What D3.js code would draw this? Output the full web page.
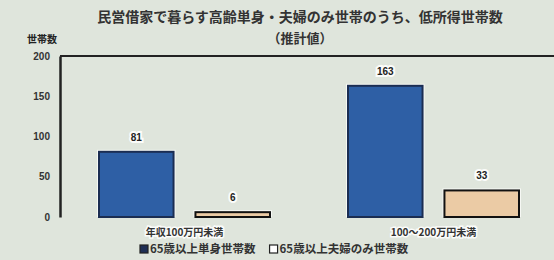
<!DOCTYPE html>
<html>
<head>
<meta charset="utf-8">
<script src="https://cdn.jsdelivr.net/npm/d3@7"></script>
<style>
  body { margin: 0; background: #dfe5dc; }
  svg { display: block; font-family: "Noto Sans CJK JP", sans-serif; }
</style>
</head>
<body>
<div id="chart"></div>
<script>
// data
const categories = ["年収100万円未満", "100～200万円未満"]
const seriesNames = ["65歳以上単身世帯数", "65歳以上夫婦のみ世帯数"]
const singleValues = [81, 163]
const coupleValues = [6, 33]
const yTicks = [0, 50, 100, 150, 200]

const width = 554
const height = 260
const margin = {top: 56, bottom: 43, left: 60, right: -4}

const svg = d3.select("#chart")
    .append("svg")
    .attr("width", width)
    .attr("height", height)

svg.append("rect").attr("width", width).attr("height", height).attr("fill", "#dfe5dc")

const rows = categories.map((c, i) => ({cat: c, values: [singleValues[i], coupleValues[i]]}))

const x0 = d3.scaleBand()
    .domain(categories)
    .range([margin.left, width - margin.right])
    .padding(0)

const x1 = d3.scaleBand()
    .domain(seriesNames)
    .range([39, 210])
    .paddingInner(0.227)
    .paddingOuter(0)

const y = d3.scaleLinear()
    .domain([0, 200])
    .range([height - margin.bottom, margin.top])

const colors = ["#2e5fa5", "#ebcba5"]
const borders = ["#1b2d52", "#111"]

// titles
svg.append("text")
    .attr("x", 300).attr("y", 22)
    .attr("text-anchor", "middle")
    .attr("font-size", 14).attr("font-weight", "bold").attr("fill", "#333")
    .text("民営借家で暮らす高齢単身・夫婦のみ世帯のうち、低所得世帯数")
svg.append("text")
    .attr("x", 300).attr("y", 43)
    .attr("text-anchor", "middle")
    .attr("font-size", 13).attr("font-weight", "bold").attr("fill", "#333")
    .text("（推計値）")
svg.append("text")
    .attr("x", 27).attr("y", 43)
    .attr("font-size", 10).attr("font-weight", "bold").attr("fill", "#222")
    .text("世帯数")

// frame top + y axis
svg.append("line")
    .attr("x1", margin.left).attr("x2", width)
    .attr("y1", y(200)).attr("y2", y(200))
    .attr("stroke", "#222").attr("stroke-width", 2)

const yAxis = d3.axisLeft(y).tickValues(yTicks).tickSize(0).tickPadding(10)
const yAxisGroup = svg.append("g")
    .attr("transform", `translate(${margin.left},0)`)
    .call(yAxis)
yAxisGroup.select(".domain").attr("stroke", "#222").attr("stroke-width", 2.5)
yAxisGroup.selectAll("text")
    .attr("font-size", 10).attr("font-weight", "bold").attr("fill", "#333")
    .attr("font-family", "Liberation Sans, sans-serif")

// bars
const groups = svg.selectAll(".grp")
    .data(rows)
    .join("g")
    .attr("transform", d => `translate(${x0(d.cat)},0)`)

const bars = groups.selectAll("g")
    .data(d => d.values.map((v, i) => ({name: seriesNames[i], v, i})))
    .join("g")

bars.append("rect")
    .attr("x", d => x1(d.name) - 2)
    .attr("y", d => y(d.v) - 2)
    .attr("width", x1.bandwidth() + 4)
    .attr("height", d => y(0) - y(d.v) + 2)
    .attr("fill", "#f6f8f4")

bars.append("rect")
    .attr("x", d => x1(d.name))
    .attr("y", d => y(d.v))
    .attr("width", x1.bandwidth())
    .attr("height", d => y(0) - y(d.v))
    .attr("fill", d => colors[d.i])
    .attr("stroke", d => borders[d.i])
    .attr("stroke-width", 2)

bars.append("text")
    .attr("x", d => x1(d.name) + x1.bandwidth() / 2)
    .attr("y", d => y(d.v) - 11)
    .attr("text-anchor", "middle")
    .attr("font-size", 10).attr("font-weight", "bold").attr("fill", "#222")
    .attr("font-family", "Liberation Sans, sans-serif")
    .attr("stroke", "#fbfcfa").attr("stroke-width", 4).attr("paint-order", "stroke")
    .text(d => d.v)

// category labels
svg.selectAll(".cat")
    .data(categories)
    .join("text")
    .attr("x", d => x0(d) + x0.bandwidth() / 2)
    .attr("y", 236)
    .attr("text-anchor", "middle")
    .attr("font-size", 10).attr("font-weight", "bold").attr("fill", "#333")
    .attr("stroke", "#fbfcfa").attr("stroke-width", 3).attr("paint-order", "stroke")
    .text(d => d)

// legend
const legend = svg.append("g").attr("transform", "translate(140,253)")
let lx = 0
seriesNames.forEach((s, i) => {
    legend.append("rect")
        .attr("x", lx).attr("y", -8)
        .attr("width", 8).attr("height", 8)
        .attr("fill", i == 0 ? "#1f2f55" : "#fff")
        .attr("stroke", "#222").attr("stroke-width", 1.2)
    const t = legend.append("text")
        .attr("x", lx + 10).attr("y", 0)
        .attr("font-size", 11.5).attr("font-weight", "bold").attr("fill", "#333")
        .text(s)
    lx += 10 + t.node().getComputedTextLength() + 14
})
</script>
</body>
</html>
